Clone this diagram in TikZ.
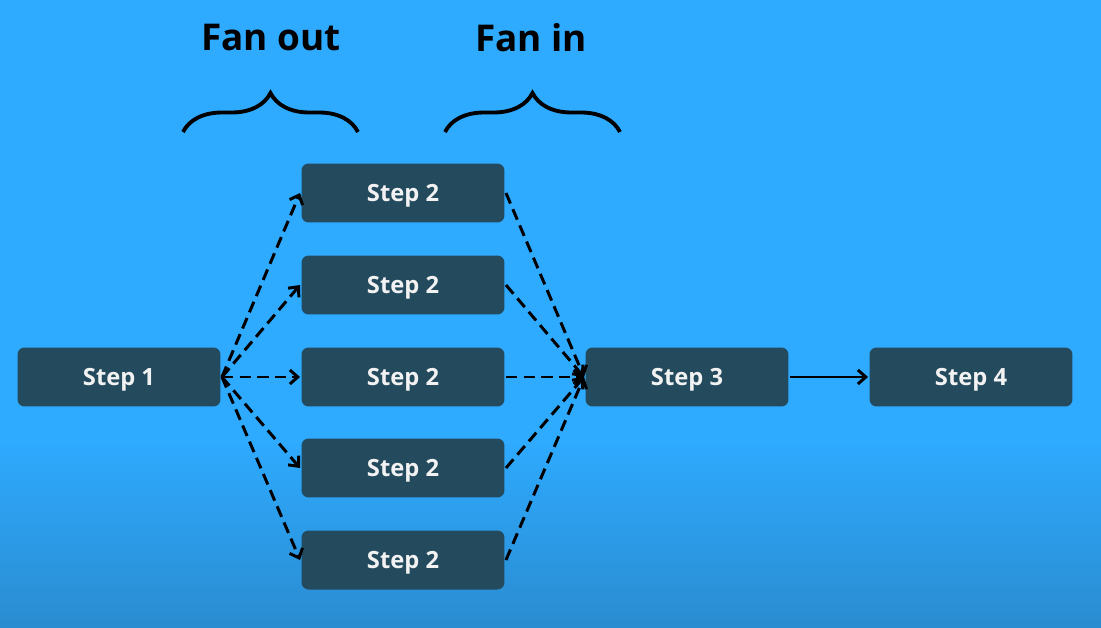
\documentclass[tikz,border=0pt]{standalone}
\usepackage{fontspec}
\setmainfont{Open Sans}
\usetikzlibrary{arrows.meta,decorations.pathreplacing}
\definecolor{bgtop}{HTML}{2EAAFF}
\definecolor{bgbot}{HTML}{2A8CD0}
\definecolor{boxfill}{HTML}{244A5E}
\begin{document}
\begin{tikzpicture}[x=0.02cm, y=-0.02cm, line width=1.7pt,
  box/.style={fill=boxfill, rounded corners=4pt, minimum width=4.06cm, minimum height=1.18cm, inner sep=0pt, text height=9.6pt, text depth=0pt, text=white!95!black, font=\bfseries\fontsize{13.5}{16}\selectfont},
  fan/.style={dash pattern=on 6.5pt off 3.5pt, -{Straight Barb[length=4.5pt, width=8pt]}},
  title/.style={font=\bfseries\fontsize{21}{24}\selectfont}]
\useasboundingbox (0,0) rectangle (1101,628);
\fill[bgtop] (0,0) rectangle (1101,441);
\shade[top color=bgtop, bottom color=bgbot] (0,440) rectangle (1101,628);
\node[title] (L_0) at (271,38) {Fan out};
\node[title] (L_1) at (531,38) {Fan in};
\draw[line width=2.2pt, decorate, decoration={brace, amplitude=0.78cm}] (183,132) -- (358,132);
\draw[line width=2.2pt, decorate, decoration={brace, amplitude=0.78cm}] (445,132) -- (620,132);
\node[box] (P_0_0) at (119,377) {Step 1};
\node[box] (P_1_0) at (403,193) {Step 2};
\node[box] (P_1_1) at (403,285) {Step 2};
\node[box] (P_1_2) at (403,377) {Step 2};
\node[box] (P_1_3) at (403,468) {Step 2};
\node[box] (P_1_4) at (403,560) {Step 2};
\node[box] (P_2_0) at (687,377) {Step 3};
\node[box] (P_3_0) at (971,377) {Step 4};
\draw[fan] (P_0_0.east) -- (P_1_0.west);
\draw[fan] (P_0_0.east) -- (P_1_1.west);
\draw[fan] (P_0_0.east) -- (P_1_2.west);
\draw[fan] (P_0_0.east) -- (P_1_3.west);
\draw[fan] (P_0_0.east) -- (P_1_4.west);
\draw[fan] (P_1_0.east) -- (P_2_0.west);
\draw[fan] (P_1_1.east) -- (P_2_0.west);
\draw[fan] (P_1_2.east) -- (P_2_0.west);
\draw[fan] (P_1_3.east) -- (P_2_0.west);
\draw[fan] (P_1_4.east) -- (P_2_0.west);
\draw[-{Straight Barb[length=4.5pt, width=8pt]}] (P_2_0.east) -- (P_3_0.west);
\end{tikzpicture}
\end{document}
